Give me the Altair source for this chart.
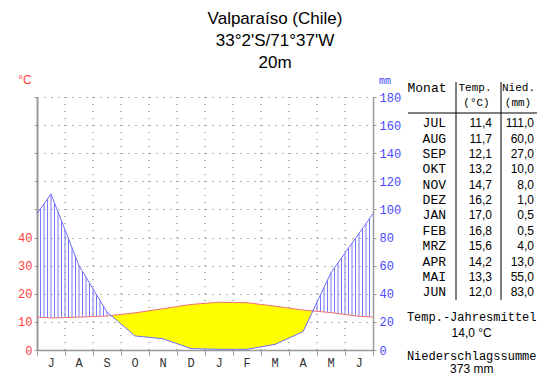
import altair as alt
import numpy as np
import pandas as pd

# ---------------- data ----------------
months_table = ["JUL", "AUG", "SEP", "OKT", "NOV", "DEZ", "JAN", "FEB", "MRZ", "APR", "MAI", "JUN"]
month_letters = ["J", "A", "S", "O", "N", "D", "J", "F", "M", "A", "M", "J"]
temps = [11.4, 11.7, 12.1, 13.2, 14.7, 16.2, 17.0, 16.8, 15.6, 14.2, 13.3, 12.0]
precip = [111.0, 60.0, 27.0, 10.0, 8.0, 1.0, 0.5, 0.5, 4.0, 13.0, 55.0, 83.0]
title_lines = ["Valparaíso (Chile)", "33°2'S/71°37'W", "20m"]
temp_ticks = list(range(0, 91, 10))
precip_ticks = list(range(0, 181, 20))

RED = "#ff4040"
BLUE = "#4848ff"
MONO = "Liberation Mono"
SANS = "Liberation Sans"


def fmt(v):
    return f"{v:.1f}".replace(".", ",")


# ------------- derived series (Walter-Lieth: 10 degC == 20 mm) -------------
t_edge = (temps[0] + temps[-1]) / 2
p_edge = (precip[0] + precip[-1]) / 2
xs = np.array([0.0] + [i + 0.5 for i in range(12)] + [12.0])
ts = np.array([t_edge] + temps + [t_edge])
ps = np.array([p_edge] + precip + [p_edge])
line_df = pd.DataFrame({"x": xs, "t": ts, "p": ps, "pc": ps / 2})

ax, at, apc = [], [], []
for j in range(len(xs)):
    ax.append(xs[j]); at.append(ts[j]); apc.append(ps[j] / 2)
    if j < len(xs) - 1:
        d0 = ts[j] - ps[j] / 2
        d1 = ts[j + 1] - ps[j + 1] / 2
        if d0 * d1 < 0:
            f = d0 / (d0 - d1)
            ax.append(xs[j] + f * (xs[j + 1] - xs[j]))
            at.append(ts[j] + f * (ts[j + 1] - ts[j]))
            apc.append((ps[j] + f * (ps[j + 1] - ps[j])) / 2)
area_df = pd.DataFrame({"x": ax, "pc": apc, "top": np.maximum(at, apc)})

hx = np.arange(1, 96) / 8.0
ht = np.interp(hx, xs, ts)
hp = np.interp(hx, xs, ps) / 2
hatch_df = pd.DataFrame({"x": hx, "t": ht, "pc": hp})[hp > ht]

month_df = pd.DataFrame({"x": [i + 0.5 for i in range(12)], "m": month_letters})
grid_df = pd.DataFrame({"x": list(range(1, 12))})
table_df = pd.DataFrame({
    "m": months_table,
    "t": [fmt(v) for v in temps],
    "p": [fmt(v) for v in precip],
    "i": list(range(12)),
})
one = pd.DataFrame({"d": [0]})

# ---------------- scales / axes ----------------
xscale = alt.Scale(domain=[0, 12], nice=False, zero=False)
tscale = alt.Scale(domain=[0, 90], nice=False, zero=True)
pscale = alt.Scale(domain=[0, 180], nice=False, zero=True)

xaxis = alt.Axis(values=list(range(13)), labels=False, title=None, grid=False,
                 tickSize=5, tickColor="#999", domainColor="#999", domainWidth=1.5)
yaxis_l = alt.Axis(values=temp_ticks, title=None, orient="left", grid=True,
                   gridDash=[1, 6], gridColor="#666", tickSize=3, tickColor="#999",
                   domainColor="#999", domainWidth=2, labelColor=RED, labelFont=MONO,
                   labelFontSize=12, labelPadding=2, labelOverlap=False, labelFlush=False,
                   labelExpr="datum.value <= 40 ? datum.label : ''")
yaxis_r = alt.Axis(values=precip_ticks, title=None, orient="right", grid=False,
                   tickSize=3, tickColor="#999", domainColor="#999", domainWidth=1.5,
                   labelColor=BLUE, labelFont=MONO, labelFontSize=12, labelPadding=3,
                   labelOverlap=False, labelFlush=False)

vgrid = alt.Chart(grid_df).mark_rule(color="#666", strokeWidth=1, strokeDash=[1, 6]).encode(
    x=alt.X("x:Q", scale=xscale, axis=xaxis),
    y=alt.value(0), y2=alt.value(253),
)
area = alt.Chart(area_df).mark_area(color="#ffff00", opacity=1).encode(
    x=alt.X("x:Q", scale=xscale, axis=xaxis),
    y=alt.Y("top:Q", scale=tscale, axis=yaxis_l),
    y2="pc:Q",
)
hatch = alt.Chart(hatch_df).mark_rule(color="#7878ff", strokeWidth=1).encode(
    x=alt.X("x:Q", scale=xscale, axis=xaxis),
    y=alt.Y("t:Q", scale=tscale, axis=yaxis_l),
    y2="pc:Q",
)
tline = alt.Chart(line_df).mark_line(color="#f07070", strokeWidth=1).encode(
    x=alt.X("x:Q", scale=xscale, axis=xaxis),
    y=alt.Y("t:Q", scale=tscale, axis=yaxis_l),
)
groupA = alt.layer(area, hatch, tline)

pline = alt.Chart(line_df).mark_line(color="#6f6fff", strokeWidth=1).encode(
    x=alt.X("x:Q", scale=xscale, axis=xaxis),
    y=alt.Y("p:Q", scale=pscale, axis=yaxis_r),
)

month_labels = alt.Chart(month_df).mark_text(
    font=MONO, fontSize=12, color="#333", baseline="middle", align="center"
).encode(x=alt.X("x:Q", scale=xscale, axis=xaxis), y=alt.value(265.5), text="m:N")


def txt(s, x, y, size=12, font=MONO, color="black", align="center"):
    return alt.Chart(one).mark_text(
        font=font, fontSize=size, color=color, align=align, baseline="middle"
    ).encode(x=alt.value(x), y=alt.value(y), text=alt.value(s))


def rule(x1, y1, x2, y2):
    return alt.Chart(one).mark_rule(color="black", strokeWidth=1).encode(
        x=alt.value(x1), x2=alt.value(x2), y=alt.value(y1), y2=alt.value(y2))


texts = [
    txt(title_lines[0], 238, -78, size=17, font=SANS),
    txt(title_lines[1], 238, -56, size=17, font=SANS),
    txt(title_lines[2], 238, -34, size=17, font=SANS),
    txt("°C", -12, -17, size=12, font=SANS, color=RED),
    txt("mm", 348, -16, size=10, font=MONO, color=BLUE),
    txt("Monat", 390, -9, size=13),
    txt("Temp.", 438, -9, size=11),
    txt("(°C)", 439.5, 6, size=11),
    txt("Nied.", 481.5, -9, size=11),
    txt("(mm)", 481, 6, size=11),
    txt("Temp.-Jahresmittel", 434.7, 219.7, size=12),
    txt(f"{fmt(np.mean(temps))} °C", 434.7, 235.5, size=12, font=SANS),
    txt("Niederschlagssumme", 434.7, 258.5, size=12),
    txt(f"{sum(precip):.0f} mm", 434.7, 272, size=12, font=SANS),
]
lines = [
    rule(419, -15, 419, 203),
    rule(464, -15, 464, 203),
    rule(371, 16, 500, 16),
]

tab = alt.Chart(table_df).transform_calculate(yy="26.3 + datum.i * 15.36")
col_m = tab.mark_text(align="right", baseline="middle", font=MONO, fontSize=13).encode(
    x=alt.value(409), y=alt.Y("yy:Q", scale=None, axis=None), text="m:N")
col_t = tab.mark_text(align="right", baseline="middle", font=SANS, fontSize=12).encode(
    x=alt.value(455), y=alt.Y("yy:Q", scale=None, axis=None), text="t:N")
col_p = tab.mark_text(align="right", baseline="middle", font=SANS, fontSize=12).encode(
    x=alt.value(497), y=alt.Y("yy:Q", scale=None, axis=None), text="p:N")

chart = alt.layer(
    vgrid, groupA, pline, month_labels, col_m, col_t, col_p, *texts, *lines
).resolve_scale(y="independent").properties(
    width=336,
    height=253,
    autosize=alt.AutoSizeParams(type="none"),
    padding={"left": 29, "top": 89, "right": 169, "bottom": 26},
    background="white",
).configure_view(stroke=None)

chart.save("out.html", embed_options={"renderer": "svg", "actions": False})
